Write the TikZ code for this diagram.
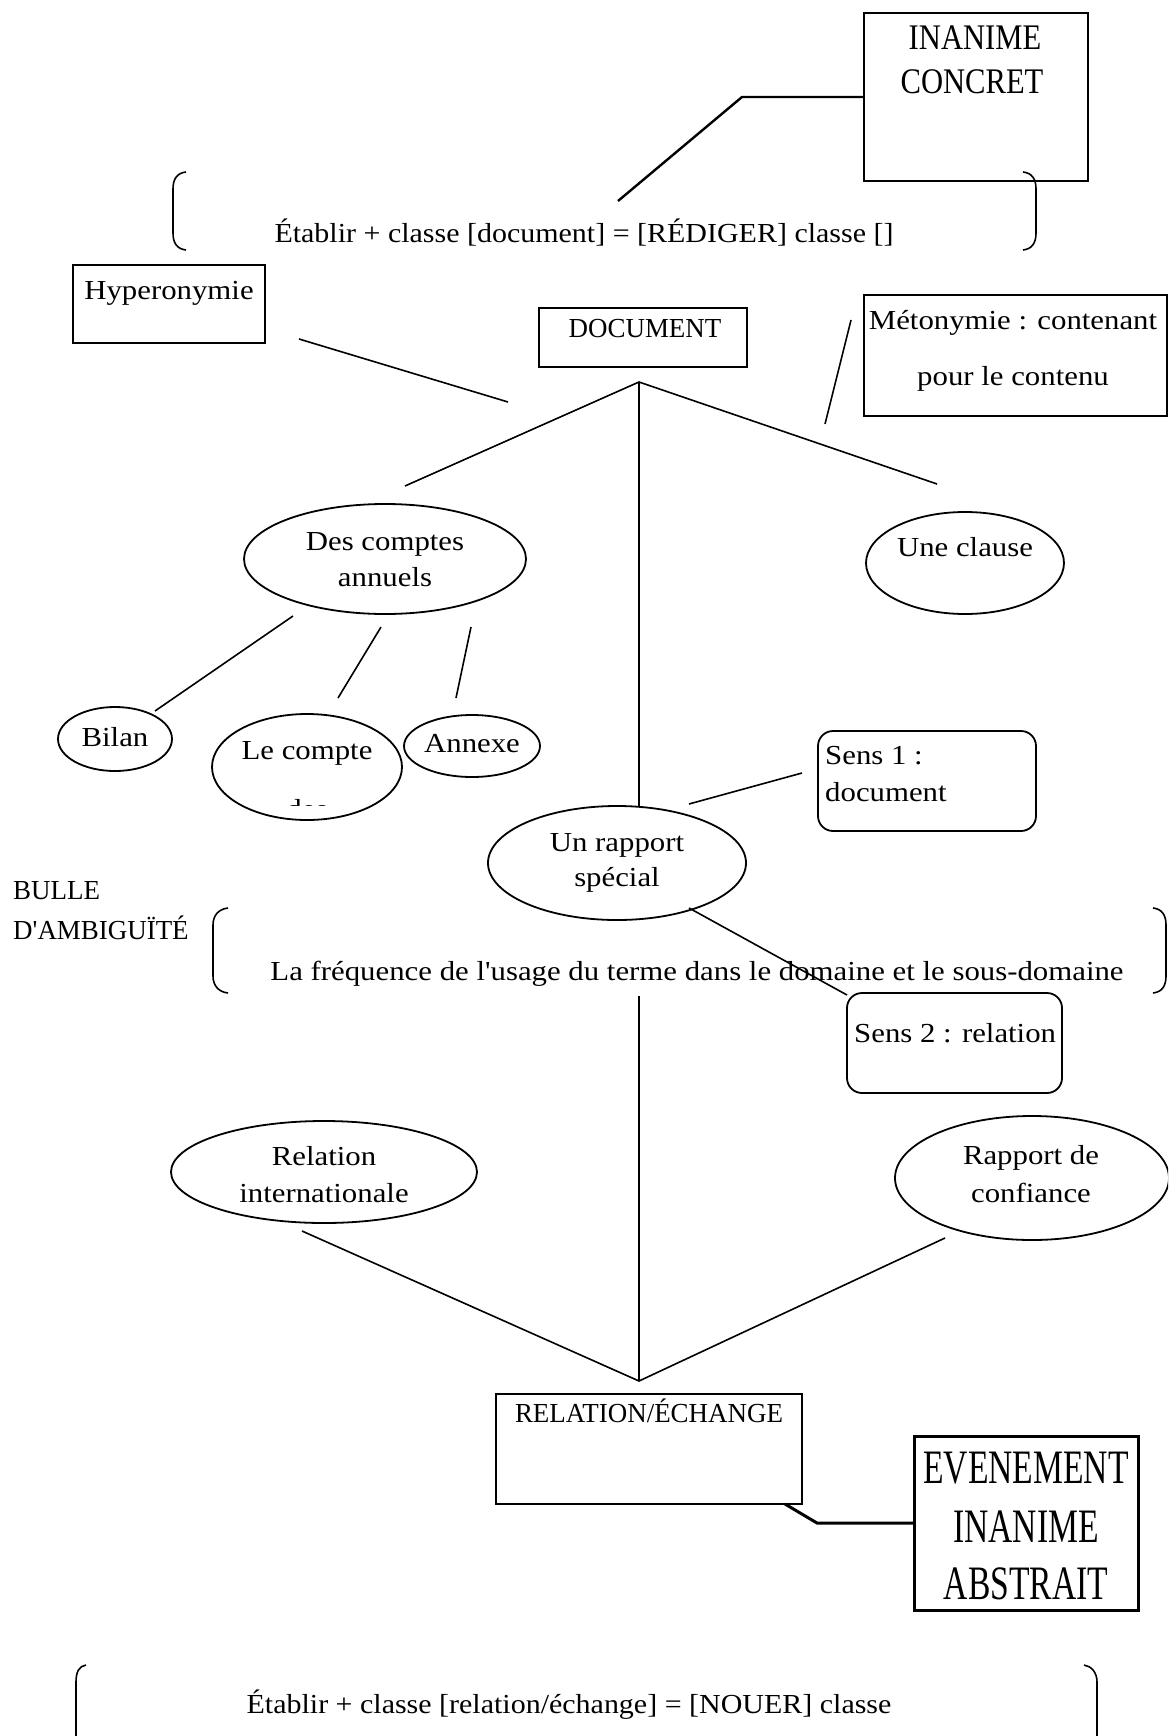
\documentclass[tikz,border=0pt]{standalone}
\usepackage{fontspec}
\setmainfont{Liberation Serif}[FakeStretch=1.12, Ligatures=TeXOff]
\newfontfamily\formfont{Liberation Serif}[FakeStretch=1.09, Ligatures=TeXOff]
\newfontfamily\capsfont{Liberation Serif}[FakeStretch=0.98, Ligatures=TeXOff]
\newfontfamily\condfont{Liberation Serif}[FakeStretch=0.85, Ligatures=TeXOff]
\newfontfamily\narrowfont{Liberation Serif}[FakeStretch=0.7, Ligatures=TeXOff]
\usetikzlibrary{shapes.geometric}
\tikzset{
  txt/.style={font=\fontsize{27.5}{33}\selectfont, inner sep=0pt, text height=18.5pt, text depth=6pt, yshift=-3pt},
  ctxt/.style={txt, font=\capsfont\fontsize{27.5}{33}\selectfont},
  ftxt/.style={txt, font=\formfont\fontsize{27.5}{33}\selectfont},
  bigtxt/.style={txt, font=\condfont\fontsize{36}{40}\selectfont, text height=24pt, text depth=0pt},
  hugetxt/.style={txt, font=\narrowfont\fontsize{48}{52}\selectfont, text height=32pt, text depth=0pt},
  rbox/.style={draw, line width=2pt, rectangle, inner sep=0pt},
  rrbox/.style={draw, line width=1.8pt, rectangle, rounded corners=15pt, inner sep=0pt},
  ell/.style={draw, line width=1.8pt, ellipse, inner sep=0pt},
  conn/.style={line width=1.6pt},
  thick conn/.style={line width=3pt},
  paren/.style={line width=1.6pt},
}
\begin{document}
\begin{tikzpicture}[x=1pt,y=-1pt]
\useasboundingbox (0,0) rectangle (1168,1736);
\clip (0,0) rectangle (1168,1736);

% ---------- boxes ----------
\node[rbox, line width=2.5pt, minimum width=224pt, minimum height=168pt] (inc) at (976,97) {};
\node[bigtxt] (incT1) at (975,35) {INANIME};
\node[bigtxt] (incT2) at (972,79) {CONCRET};

\node[rbox, minimum width=192pt, minimum height=78pt] (hyp) at (169,304) {};
\node[txt] (hypT) at (169,290) {Hyperonymie};

\node[rbox, minimum width=208pt, minimum height=59pt] (doc) at (643,337.5) {};
\node[ctxt] (docT) at (645,328) {DOCUMENT};

\node[rbox, minimum width=303pt, minimum height=121pt] (met) at (1015.5,355.5) {};
\node[txt] (metT1) at (1013,320) {Métonymie : contenant};
\node[txt] (metT2) at (1013,376) {pour le contenu};

\node[rrbox, minimum width=218pt, minimum height=100pt] (s1) at (927,781) {};
\node[txt, anchor=west] (s1T1) at (825,755) {Sens 1 :};
\node[txt, anchor=west] (s1T2) at (825,792) {document};

\node[rrbox, minimum width=215pt, minimum height=100pt] (s2) at (954.5,1043) {};
\node[txt, anchor=west] (s2T) at (854,1033) {Sens 2 : relation};

\node[rbox, minimum width=306pt, minimum height=110pt] (rel) at (649,1449) {};
\node[ctxt] (relT) at (649,1413) {RELATION/ÉCHANGE};

\node[rbox, line width=3pt, minimum width=224pt, minimum height=174pt] (ev) at (1026,1523) {};
\node[hugetxt] (evT1) at (1026,1464) {EVENEMENT};
\node[hugetxt] (evT2) at (1026,1523) {INANIME};
\node[hugetxt] (evT3) at (1026,1580) {ABSTRAIT};

% ---------- ellipses ----------
\node[ell, minimum width=282pt, minimum height=110pt] (dca) at (385,559) {};
\node[txt] (dcaT1) at (385,541) {Des comptes};
\node[txt] (dcaT2) at (385,577) {annuels};

\node[ell, minimum width=198pt, minimum height=102pt] (cla) at (965,563) {};
\node[txt] (claT) at (965,547) {Une clause};

\node[ell, minimum width=114pt, minimum height=64pt] (bil) at (115,739) {};
\node[txt] (bilT) at (115,737) {Bilan};

\node[ell, minimum width=190pt, minimum height=106pt] (lec) at (307,767) {};
\node[txt] (lecT) at (307,750) {Le compte};
\begin{scope}
  \clip (200,700) rectangle (420,805);
  \node[txt] (lecT2) at (307,809) {des};
\end{scope}

\node[ell, minimum width=136pt, minimum height=62pt] (ann) at (472,746) {};
\node[txt] (annT) at (472,743) {Annexe};

\node[ell, minimum width=258pt, minimum height=114pt] (rap) at (617,863) {};
\node[txt] (rapT1) at (617,842) {Un rapport};
\node[txt] (rapT2) at (617,877) {spécial};

\node[ell, minimum width=306pt, minimum height=102pt] (ri) at (324,1172) {};
\node[txt] (riT1) at (324,1156) {Relation};
\node[txt] (riT2) at (324,1193) {internationale};

\node[ell, minimum width=274pt, minimum height=124pt] (rc) at (1032,1178) {};
\node[txt] (rcT1) at (1031,1155) {Rapport de};
\node[txt] (rcT2) at (1031,1193) {confiance};

% ---------- free texts ----------
\node[ftxt] (top) at (584,233) {Établir + classe [document] = [RÉDIGER] classe []};
\node[ctxt, anchor=west] (bul1) at (13,890) {BULLE};
\node[ctxt, anchor=west] (bul2) at (13,930) {D'AMBIGUÏTÉ};
\node[txt] (freq) at (697,971) {La fréquence de l'usage du terme dans le domaine et le sous-domaine};
\node[ftxt] (bot) at (569,1704) {Établir + classe [relation/échange] = [NOUER] classe};

% ---------- parentheses ----------
\draw[paren] (186,172) .. controls (177,173) and (173,179) .. (173,189) -- (173,233) .. controls (173,243) and (177,249) .. (186,250);
\draw[paren] (1023,172) .. controls (1032,173) and (1036,179) .. (1036,189) -- (1036,233) .. controls (1036,243) and (1032,249) .. (1023,250);
\draw[paren] (228,908) .. controls (219,909) and (213,915) .. (213,925) -- (213,976) .. controls (213,986) and (219,992) .. (228,993);
\draw[paren] (1153,908) .. controls (1162,909) and (1166,915) .. (1166,925) -- (1166,976) .. controls (1166,986) and (1162,992) .. (1153,993);
\draw[paren] (86,1665) .. controls (79,1666) and (76,1672) .. (76,1682) -- (76,1760);
\draw[paren] (1084,1665) .. controls (1091,1666) and (1097,1672) .. (1097,1682) -- (1097,1760);

% ---------- connector end points ----------
\coordinate (incA) at (864,97);
\coordinate (incB) at (742,97);
\coordinate (incC) at (618,201);
\coordinate (hypA) at (299,339);
\coordinate (hypB) at (508,402);
\coordinate (metA) at (851,320);
\coordinate (metB) at (825,424);
\coordinate (apex) at (639,382);
\coordinate (apexL) at (405,486);
\coordinate (apexR) at (937,484);
\coordinate (vEnd) at (639,806);
\coordinate (d1a) at (293,616);
\coordinate (d1b) at (155,711);
\coordinate (d2a) at (381,627);
\coordinate (d2b) at (338,698);
\coordinate (d3a) at (471,627);
\coordinate (d3b) at (456,698);
\coordinate (s1a) at (689,804);
\coordinate (s1b) at (802,773);
\coordinate (s2a) at (689,908);
\coordinate (s2b) at (847,995);
\coordinate (v2a) at (639,996);
\coordinate (v2b) at (639,1381);
\coordinate (riA) at (302,1231);
\coordinate (rcA) at (945,1238);
\coordinate (evA) at (785,1504);
\coordinate (evB) at (817,1523);
\coordinate (evC) at (914,1523);

% ---------- connectors ----------
\draw[conn, line width=2.4pt, line join=miter] (incA) -- (incB) -- (incC);
\draw[conn] (hypA) -- (hypB);
\draw[conn] (metA) -- (metB);
\draw[conn] (apexL) -- (apex) -- (apexR);
\draw[conn] (apex) -- (vEnd);
\draw[conn] (d1a) -- (d1b);
\draw[conn] (d2a) -- (d2b);
\draw[conn] (d3a) -- (d3b);
\draw[conn] (s1a) -- (s1b);
\draw[conn] (s2a) -- (s2b);
\draw[conn] (v2a) -- (v2b);
\draw[conn] (riA) -- (v2b) -- (rcA);
\draw[thick conn] (evA) -- (evB) -- (evC);
\end{tikzpicture}
\end{document}
